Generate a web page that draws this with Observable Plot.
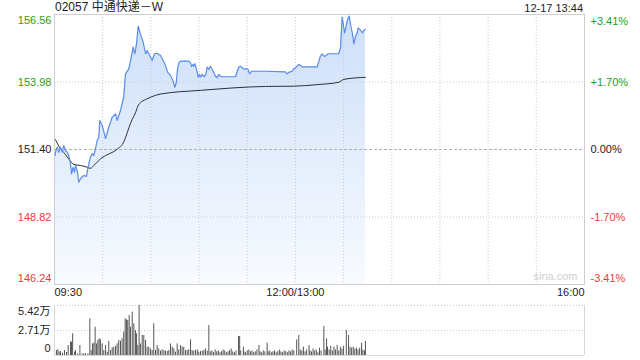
<!DOCTYPE html>
<html>
<head>
<meta charset="utf-8">
<script src="https://cdn.jsdelivr.net/npm/d3@7"></script>
<script src="https://cdn.jsdelivr.net/npm/@observablehq/plot@0.6"></script>
<style>
  html, body { margin: 0; padding: 0; background: #fff; }
  #wrap { position: relative; width: 640px; height: 360px; overflow: hidden; font-family: "Liberation Sans", "Noto Sans CJK SC", Arial, sans-serif; }
  #title { position: absolute; left: 55px; top: 0px; font-size: 12px; color: #222; line-height: 15px; }
  #stamp { position: absolute; right: 57px; top: 1px; font-size: 11px; color: #222; line-height: 14px; }
  #main { position: absolute; left: 0; top: 0; }
  #vol { position: absolute; left: 0; top: 300px; }
</style>
</head>
<body>
<div id="wrap">
  <div id="main"></div>
  <div id="vol"></div>
  <div id="title"></div>
  <div id="stamp"></div>
</div>
<script>
// ---- data ----
const stockTitle = "02057 中通快递－W";
const stampText = "12-17 13:44";
const priceTicks = [156.56, 153.98, 151.40, 148.82, 146.24];
const pctLabels = ["+3.41%", "+1.70%", "0.00%", "-1.70%", "-3.41%"];
const timeLabels = ["09:30", "12:00/13:00", "16:00"];
const timeLabelPos = [0, 150, 330];
const gridTimes = [30, 60, 90, 120, 150, 180, 210, 240, 270, 300];
const volTicks = [0, 2.71, 5.42];
const volLabels = ["0", "2.71万", "5.42万"];

// minutes since 09:30 (trading minutes), price
const priceT = [0.3,0.9,1.7,2.7,3.7,4.8,5.8,6.8,7.9,8.9,10.0,10.6,11.6,12.5,13.1,14.1,15.1,16.2,17.2,18.2,19.9,20.7,21.4,22.4,23.5,24.5,25.5,26.6,27.6,28.2,29.7,31.8,33.8,35.9,38.0,39.0,41.1,43.1,44.2,46.3,47.8,49.0,50.0,51.1,52.1,53.5,55.2,56.7,57.7,59.3,60.8,62.3,63.9,66.0,67.7,69.1,70.5,72.2,73.7,74.9,75.8,76.6,77.4,78.5,83.6,84.7,85.3,86.1,86.7,87.4,88.2,88.9,89.5,90.3,90.9,92.0,93.0,94.0,94.6,95.1,96.1,97.1,98.2,99.2,100.2,101.3,102.3,103.4,104.4,112.7,113.8,114.8,115.8,116.9,117.9,120.0,120.6,121.4,122.0,122.7,131.4,143.8,144.9,145.9,148.0,149.0,150.1,152.1,153.2,154.2,163.6,164.6,165.6,166.7,167.7,168.7,169.8,170.8,177.0,178.1,179.1,179.8,180.6,181.2,181.8,182.6,183.5,184.3,185.4,186.4,187.4,188.5,189.1,190.1,191.0,191.8,192.6,193.6];
const priceV = [151.17,151.36,151.49,151.29,151.49,151.30,151.55,151.36,151.30,151.17,150.85,150.47,150.72,150.53,150.79,150.60,150.15,150.28,150.34,150.41,150.37,150.66,150.85,151.11,151.24,151.17,151.43,151.74,151.87,152.51,152.32,151.82,152.25,152.63,152.76,152.51,152.89,153.40,154.29,154.48,154.93,155.31,155.06,155.44,156.11,155.82,155.50,155.06,155.18,154.99,154.80,155.06,155.08,154.99,154.80,154.61,154.35,154.23,154.04,153.78,153.95,154.46,154.71,154.78,154.78,154.71,154.58,154.65,154.58,154.68,154.52,154.33,154.16,154.27,154.18,154.27,154.18,154.24,154.39,154.55,154.46,154.58,154.46,154.33,154.20,154.14,154.27,154.20,154.18,154.18,154.39,154.55,154.58,154.52,154.48,154.48,154.46,154.29,154.33,154.39,154.39,154.37,154.29,154.35,154.39,154.48,154.52,154.65,154.62,154.56,154.56,154.78,154.97,155.06,154.97,154.97,155.03,155.06,155.06,155.29,156.46,156.18,155.86,155.99,156.18,156.37,156.50,156.18,155.86,155.44,155.73,155.86,156.05,155.99,155.92,155.86,155.95,155.99];

const avgT = [0.6,2.7,6.8,10.0,12.0,16.2,20.4,22.4,24.5,28.6,31.8,36.9,40.0,42.2,44.2,46.3,48.4,50.4,51.9,53.5,56.7,59.8,66.0,90.9,131.4,149.0,163.6,177.0,180.1,193.6];
const avgV = [151.78,151.53,151.21,150.95,150.83,150.79,150.72,150.68,150.79,151.04,151.17,151.32,151.46,151.59,151.85,152.23,152.55,152.80,153.06,153.19,153.31,153.40,153.52,153.66,153.81,153.82,153.88,153.97,154.08,154.16];

// volume (万股)
const volT = [1.2,2.1,2.9,3.7,5.0,6.2,7.5,8.5,10.0,10.6,11.3,12.5,13.1,14.5,15.8,17.2,18.3,19.3,20.8,22.0,22.8,23.7,24.5,25.3,26.2,27.0,27.8,28.6,29.7,30.7,31.8,32.8,33.8,34.9,35.9,36.9,38.0,39.0,40.0,41.1,42.1,43.1,44.0,44.8,45.6,46.5,47.3,48.4,49.4,50.4,51.1,51.9,52.7,53.5,54.6,55.6,56.7,57.7,58.7,59.8,60.8,61.8,62.9,63.9,64.9,66.0,67.0,68.1,69.1,70.2,71.2,72.2,73.3,74.3,75.3,76.4,77.4,78.5,79.5,80.5,81.6,82.6,83.6,84.7,85.7,86.7,87.8,88.9,89.8,90.9,92.0,93.0,94.0,95.1,96.1,97,98,99,100,101,102,103,104,105,106,107,108,109,110,111,112,113,114.6,115.3,116,117.6,118,119,120,121,122,123,124,125,126,127.3,128,129,130,131,132.4,133,134,135,136,137,138,139,140,141,142,143,144,145,146,147,148,149,150.8,152.1,153,154,155,156,157,158.5,159,160,161,162,163,164,165,166,167.7,168.5,169.4,170,171,172,173,174,175,176,177,178,179,180,181.7,183.1,184,185,186,187,188,189,190,191.2,192,193,193.6];
const volV = [0.54,0.61,0.36,0.43,0.25,0.54,0.33,1.08,1.45,1.45,2.35,0.36,0.54,0.18,1.08,0.18,0.18,0.18,0.18,3.97,0.54,1.26,1.34,3.07,1.26,1.63,1.81,1.70,1.26,0.54,1.08,0.36,1.52,0.54,0.83,0.90,0.98,1.26,1.63,1.55,1.81,2.53,3.97,3.87,3.79,4.34,3.07,4.70,3.43,2.71,2.35,1.08,5.42,1.26,2.17,2.17,1.63,0.90,0.90,0.72,0.54,3.43,0.54,1.08,0.72,0.47,0.61,0.54,0.47,0.43,0.54,1.26,0.90,0.72,0.36,1.26,0.61,1.08,0.90,0.90,0.54,0.54,0.61,1.70,0.54,0.47,0.54,0.61,0.36,0.43,0.47,0.54,0.72,0.47,3.25,0.4,0.5,0.3,0.6,0.4,0.5,0.3,0.4,0.6,0.5,0.3,0.4,0.5,0.7,0.4,0.3,0.5,2.06,2.06,0.5,0.9,0.4,0.3,0.5,0.6,0.4,0.5,0.3,0.4,0.6,1.08,0.4,0.3,0.5,0.4,1.34,0.4,0.5,0.3,0.4,0.5,0.3,0.4,0.6,0.4,0.3,0.5,0.4,0.3,0.5,0.4,0.6,0.5,1.70,2.17,0.6,0.5,0.9,0.4,0.6,1.08,0.5,0.4,0.7,0.5,0.6,0.3,0.8,0.5,3.14,0.6,1.8,0.9,0.6,1.0,0.5,0.9,0.6,1.1,0.5,0.9,0.7,1.0,2.71,2.17,0.9,0.8,0.9,0.7,0.8,0.6,0.8,1.34,0.6,0.5,1.52];

// ---- build ----
document.getElementById("title").textContent = stockTitle;
document.getElementById("stamp").textContent = stampText;

const up = "#1ea21e", down = "#f03a3a", neutral = "#222";
const price = priceT.map((t, i) => ({t, p: priceV[i]}));
const avg = avgT.map((t, i) => ({t, p: avgV[i]}));
const vol = volT.map((t, i) => ({t, v: volV[i]}));
const fmtPct = d => pctLabels[priceTicks.indexOf(d)];
const fmtP = d => d.toFixed(2);
const font = {fontFamily: "'Liberation Sans', 'Noto Sans CJK SC', Arial, sans-serif", fontSize: "11px", background: "transparent", overflow: "visible"};

const gradient = () => {
  const defs = d3.create("svg:defs");
  const g = defs.append("linearGradient").attr("id", "areaGrad")
    .attr("x1", 0).attr("y1", 0).attr("x2", 0).attr("y2", 1);
  g.append("stop").attr("offset", "0%").attr("stop-color", "#cddff9");
  g.append("stop").attr("offset", "100%").attr("stop-color", "#f8fbff");
  return defs.node();
};

const ax = (o) => Object.assign({tickSize: 0, label: null}, o);

const main = Plot.plot({
  width: 640, height: 300,
  marginLeft: 54, marginRight: 56, marginTop: 14, marginBottom: 16,
  style: font,
  x: {domain: [0, 330], axis: null},
  y: {domain: [priceTicks[4], priceTicks[0]], axis: null},
  marks: [
    gradient,
    Plot.areaY(price, {x: "t", y1: priceTicks[4], y2: "p", fill: "url(#areaGrad)"}),
    Plot.ruleX(gridTimes, {stroke: "#c8c8c8", strokeDasharray: "1,2"}),
    Plot.ruleY([priceTicks[1], priceTicks[3]], {stroke: "#c8c8c8", strokeDasharray: "1,2"}),
    Plot.ruleY([priceTicks[2]], {stroke: "#b0b0b0", strokeDasharray: "3,2"}),
    Plot.frame({stroke: "#cfcfcf"}),
    Plot.line(avg, {x: "t", y: "p", stroke: "#2b2f3a", strokeWidth: 1, curve: "monotone-x"}),
    Plot.line(price, {x: "t", y: "p", stroke: "#5a8de9", strokeWidth: 1.2}),
    Plot.text(["sina.com"], {frameAnchor: "bottom-right", textAnchor: "end", dx: -7, dy: -5, fill: "#d0d0d0", fontSize: 11}),
    // left axis
    Plot.axisY([priceTicks[0]], ax({anchor: "left", tickPadding: 3, dy: 6, color: up, tickFormat: fmtP})),
    Plot.axisY([priceTicks[1]], ax({anchor: "left", tickPadding: 3, color: up, tickFormat: fmtP})),
    Plot.axisY([priceTicks[2]], ax({anchor: "left", tickPadding: 3, color: neutral, tickFormat: fmtP})),
    Plot.axisY([priceTicks[3]], ax({anchor: "left", tickPadding: 3, color: down, tickFormat: fmtP})),
    Plot.axisY([priceTicks[4]], ax({anchor: "left", tickPadding: 3, dy: -6, color: down, tickFormat: fmtP})),
    // right axis
    Plot.axisY([priceTicks[0]], ax({anchor: "right", tickPadding: 6, dy: 7, color: up, tickFormat: fmtPct})),
    Plot.axisY([priceTicks[1]], ax({anchor: "right", tickPadding: 6, color: up, tickFormat: fmtPct})),
    Plot.axisY([priceTicks[2]], ax({anchor: "right", tickPadding: 6, color: neutral, tickFormat: fmtPct})),
    Plot.axisY([priceTicks[3]], ax({anchor: "right", tickPadding: 6, color: down, tickFormat: fmtPct})),
    Plot.axisY([priceTicks[4]], ax({anchor: "right", tickPadding: 6, dy: -6, color: down, tickFormat: fmtPct})),
    // time axis
    Plot.axisX([timeLabelPos[0]], ax({anchor: "bottom", tickPadding: 4, textAnchor: "start", color: neutral, tickFormat: () => timeLabels[0]})),
    Plot.axisX([timeLabelPos[1]], ax({anchor: "bottom", tickPadding: 4, color: neutral, tickFormat: () => timeLabels[1]})),
    Plot.axisX([timeLabelPos[2]], ax({anchor: "bottom", tickPadding: 4, textAnchor: "end", color: neutral, tickFormat: () => timeLabels[2]}))
  ]
});
document.getElementById("main").append(main);

const fmtVol = d => volLabels[volTicks.indexOf(d)];
const volChart = Plot.plot({
  width: 640, height: 60,
  marginLeft: 54, marginRight: 56, marginTop: 5, marginBottom: 5,
  style: font,
  x: {domain: [0, 330], axis: null},
  y: {domain: [0, volTicks[2]], axis: null},
  marks: [
    Plot.ruleY([volTicks[1], volTicks[2]], {stroke: "#c8c8c8", strokeDasharray: "1,2"}),
    Plot.ruleX([0, 330], {stroke: "#d8d8d8"}),
    Plot.ruleY([0], {stroke: "#d8d8d8"}),
    Plot.ruleX(vol, {x: "t", y1: 0, y2: "v", stroke: "#555", strokeWidth: 1}),
    Plot.axisY([volTicks[2]], ax({anchor: "left", tickPadding: 4, dy: 6, color: neutral, tickFormat: fmtVol})),
    Plot.axisY([volTicks[1]], ax({anchor: "left", tickPadding: 4, color: neutral, tickFormat: fmtVol})),
    Plot.axisY([volTicks[0]], ax({anchor: "left", tickPadding: 4, dy: -7, color: neutral, tickFormat: fmtVol}))
  ]
});
document.getElementById("vol").append(volChart);
</script>
</body>
</html>
